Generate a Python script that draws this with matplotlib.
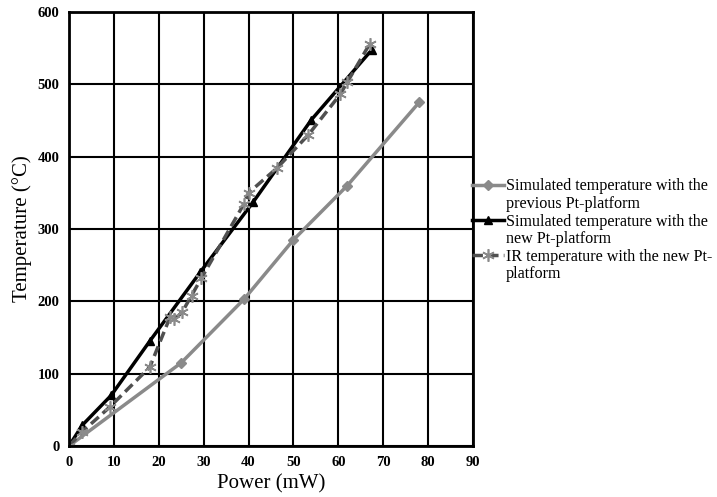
#!/usr/bin/env python3
import matplotlib
matplotlib.use("Agg")
import matplotlib.pyplot as plt
from matplotlib.lines import Line2D

# previous Pt-platform (simulated)
p_prev = [0, 25, 39, 50, 62, 78]
t_prev = [0, 115, 203, 285, 360, 475]

# new Pt-platform (simulated)
p_new = [0, 3, 9.4, 18, 29.2, 41, 54, 67.5]
t_new = [0, 29, 70, 145, 240, 337, 451, 548]

# IR measured, new Pt-platform
p_ir = [0, 3, 9.1, 18, 22.5, 23.5, 25.2, 27.3, 29.5, 39, 40, 46.3, 53.3, 60.4, 62, 67]
t_ir = [0, 20, 54, 109, 178, 175, 185, 208, 232, 335, 350, 384, 430, 486, 503, 556]

labels = [("Simulated temperature with the", "previous Pt-platform"),
          ("Simulated temperature with the", "new Pt-platform"),
          ("IR temperature with the new Pt-", "platform")]

plt.rcParams["font.family"] = ["Liberation Serif", "DejaVu Serif"]

fig = plt.figure(figsize=(7.17, 4.97), dpi=100)
ax = fig.add_axes([0.0962, 0.1026, 0.5635, 0.8733])

h1, = ax.plot(p_prev, t_prev, color="#8a8a8a", lw=2.5, marker="D", ms=5)
h2, = ax.plot(p_new, t_new, color="black", lw=2.5, marker="^", ms=6)
h3, = ax.plot(p_ir, t_ir, color="#505050", lw=2.5, ls=(0, (3, 1.5)), marker=(6, 2, 0), ms=9,
              mec="#8a8a8a", mew=1.2)

ax.set_xlim(0, 90)
ax.set_ylim(0, 600)
ax.set_xticks(range(0, 91, 10))
ax.set_yticks(range(0, 601, 100))
ax.grid(True, color="black", lw=1.5)
ax.set_axisbelow(True)
for s in ax.spines.values():
    s.set_linewidth(2)
ax.tick_params(length=0, pad=7, labelsize=10.5)
for lab in ax.get_xticklabels() + ax.get_yticklabels():
    lab.set_fontweight("bold")

ax.set_xlabel("Power (mW)", fontsize=15, labelpad=4)
ax.set_ylabel("Temperature (°C)", fontsize=15, labelpad=4)

# two-line labels: handle sits on the first line, second line gets a blank handle
blank = Line2D([], [], alpha=0)
handles, texts = [], []
for h, (a, b) in zip([h1, h2, h3], labels):
    handles += [h, blank]
    texts += [a, b]

fig.legend(handles, texts, loc="upper left", bbox_to_anchor=(0.658, 0.641), frameon=False,
           borderpad=0, borderaxespad=0, fontsize=11.6, handlelength=2.03,
           handletextpad=0.1, labelspacing=0.1)

fig.savefig("out.png", dpi=100)
